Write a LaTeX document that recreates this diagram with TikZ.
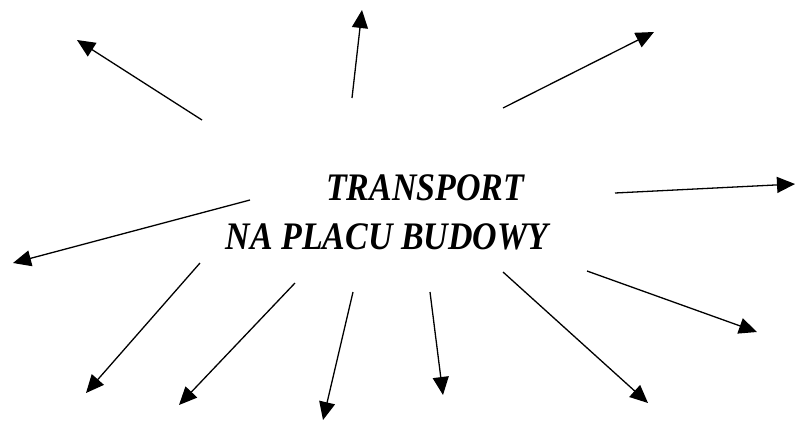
\documentclass[tikz,border=0pt]{standalone}
\usepackage{fontspec}
\setmainfont{Liberation Serif}
\usetikzlibrary{arrows.meta}
\begin{document}
\begin{tikzpicture}[x=1pt, y=-1pt, line width=1.3pt,
    arr/.style = {-{Triangle[length=18pt,width=16pt]}},
    title/.style = {font=\fontsize{39}{46}\selectfont\bfseries\itshape, inner sep=0pt, anchor=base, xscale=0.87}]
        \useasboundingbox (0,0) rectangle (795,421);
        \node[title] (t1) at (425,200) {TRANSPORT};
        \node[title] (t2) at (387,249) {NA PLACU BUDOWY};
        % starts of the arrows
        \coordinate (s1) at (202,120);
        \coordinate (s2) at (352,98);
        \coordinate (s3) at (503,108);
        \coordinate (s4) at (615,193);
        \coordinate (s5) at (250,200);
        \coordinate (s6) at (587,271);
        \coordinate (s7) at (200,263);
        \coordinate (s8) at (295,283);
        \coordinate (s9) at (353,292);
        \coordinate (s10) at (430,292);
        \coordinate (s11) at (503,272);
        % tips
        \coordinate (e1) at (77,40);
        \coordinate (e2) at (362,10);
        \coordinate (e3) at (654,32);
        \coordinate (e4) at (795,184);
        \coordinate (e5) at (13,263);
        \coordinate (e6) at (757,332);
        \coordinate (e7) at (86,393);
        \coordinate (e8) at (179,405);
        \coordinate (e9) at (323,420);
        \coordinate (e10) at (443,395);
        \coordinate (e11) at (648,403);
        \draw[arr] (s1) to (e1);
        \draw[arr] (s2) to (e2);
        \draw[arr] (s3) to (e3);
        \draw[arr] (s4) to (e4);
        \draw[arr] (s5) to (e5);
        \draw[arr] (s6) to (e6);
        \draw[arr] (s7) to (e7);
        \draw[arr] (s8) to (e8);
        \draw[arr] (s9) to (e9);
        \draw[arr] (s10) to (e10);
        \draw[arr] (s11) to (e11);
    \end{tikzpicture}
\end{document}
